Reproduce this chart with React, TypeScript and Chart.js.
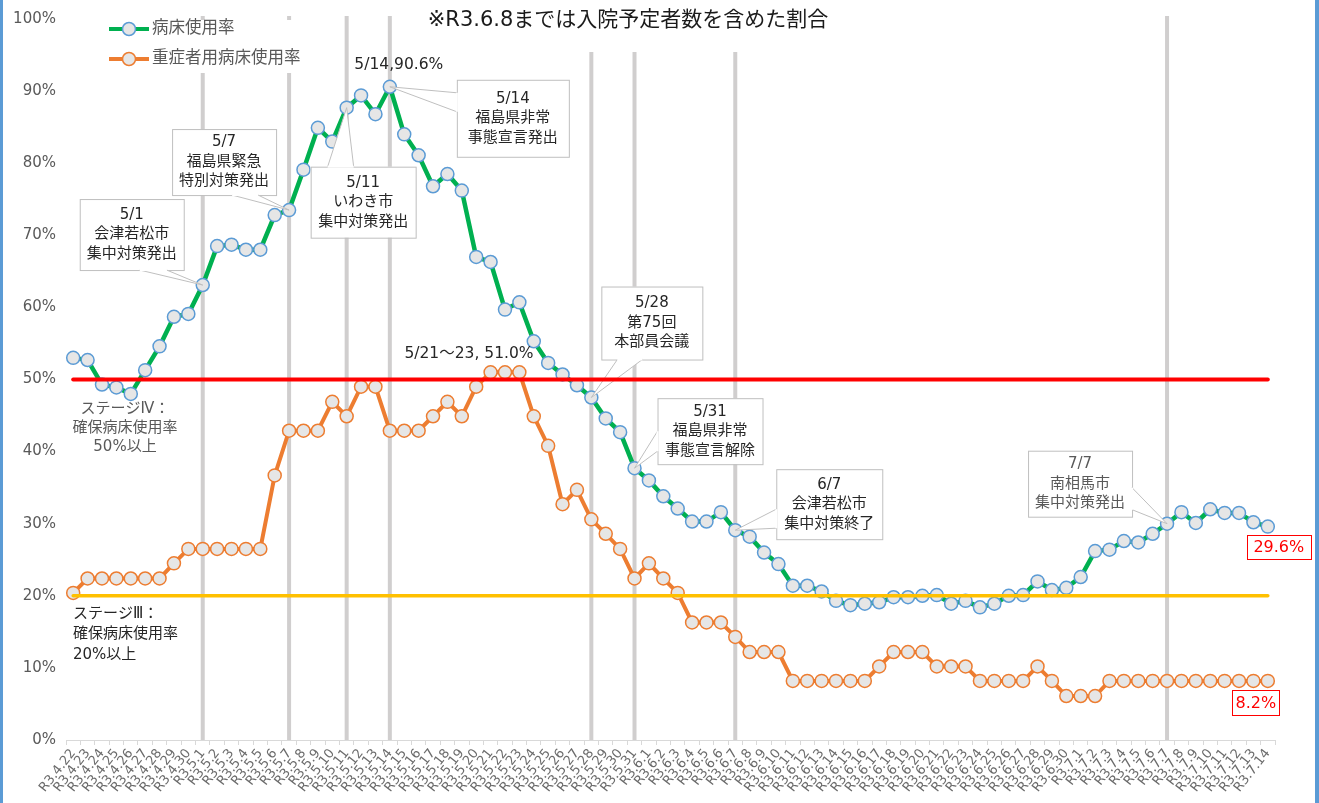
import React, { useEffect, useRef } from 'react';
import { Chart, registerables } from 'chart.js';

Chart.register(...registerables);

// ---------------- data ----------------
const dates = [
  'R3.4.22', 'R3.4.23', 'R3.4.24', 'R3.4.25', 'R3.4.26', 'R3.4.27', 'R3.4.28', 'R3.4.29', 'R3.4.30',
  'R3.5.1', 'R3.5.2', 'R3.5.3', 'R3.5.4', 'R3.5.5', 'R3.5.6', 'R3.5.7', 'R3.5.8', 'R3.5.9', 'R3.5.10',
  'R3.5.11', 'R3.5.12', 'R3.5.13', 'R3.5.14', 'R3.5.15', 'R3.5.16', 'R3.5.17', 'R3.5.18', 'R3.5.19', 'R3.5.20',
  'R3.5.21', 'R3.5.22', 'R3.5.23', 'R3.5.24', 'R3.5.25', 'R3.5.26', 'R3.5.27', 'R3.5.28', 'R3.5.29', 'R3.5.30', 'R3.5.31',
  'R3.6.1', 'R3.6.2', 'R3.6.3', 'R3.6.4', 'R3.6.5', 'R3.6.6', 'R3.6.7', 'R3.6.8', 'R3.6.9', 'R3.6.10',
  'R3.6.11', 'R3.6.12', 'R3.6.13', 'R3.6.14', 'R3.6.15', 'R3.6.16', 'R3.6.17', 'R3.6.18', 'R3.6.19', 'R3.6.20',
  'R3.6.21', 'R3.6.22', 'R3.6.23', 'R3.6.24', 'R3.6.25', 'R3.6.26', 'R3.6.27', 'R3.6.28', 'R3.6.29', 'R3.6.30',
  'R3.7.1', 'R3.7.2', 'R3.7.3', 'R3.7.4', 'R3.7.5', 'R3.7.6', 'R3.7.7', 'R3.7.8', 'R3.7.9', 'R3.7.10',
  'R3.7.11', 'R3.7.12', 'R3.7.13', 'R3.7.14',
];

// 病床使用率 (%)
const bedUsage = [
  53.0, 52.7, 49.3, 48.9, 48.0, 51.3, 54.6, 58.7, 59.1, 63.1,
  68.5, 68.7, 68.0, 68.0, 72.8, 73.5, 79.1, 84.9, 83.0, 87.7,
  89.4, 86.8, 90.6, 84.0, 81.1, 76.8, 78.5, 76.2, 67.0, 66.3,
  59.7, 60.7, 55.3, 52.3, 50.7, 49.2, 47.5, 44.6, 42.7, 37.7,
  36.0, 33.8, 32.1, 30.3, 30.3, 31.6, 29.1, 28.2, 26.0, 24.4,
  21.4, 21.4, 20.6, 19.3, 18.7, 18.9, 19.1, 19.8, 19.8, 20.0,
  20.1, 18.9, 19.3, 18.4, 18.9, 20.0, 20.1, 22.0, 20.8, 21.1,
  22.6, 26.2, 26.4, 27.6, 27.4, 28.6, 30.0, 31.6, 30.1, 32.0,
  31.5, 31.5, 30.2, 29.6,
];

// 重症者用病床使用率 (%)
const severeBedUsage = [
  20.4, 22.4, 22.4, 22.4, 22.4, 22.4, 22.4, 24.5, 26.5, 26.5,
  26.5, 26.5, 26.5, 26.5, 36.7, 42.9, 42.9, 42.9, 46.9, 44.9,
  49.0, 49.0, 42.9, 42.9, 42.9, 44.9, 46.9, 44.9, 49.0, 51.0,
  51.0, 51.0, 44.9, 40.8, 32.7, 34.7, 30.6, 28.6, 26.5, 22.4,
  24.5, 22.4, 20.4, 16.3, 16.3, 16.3, 14.3, 12.2, 12.2, 12.2,
  8.2, 8.2, 8.2, 8.2, 8.2, 8.2, 10.2, 12.2, 12.2, 12.2,
  10.2, 10.2, 10.2, 8.2, 8.2, 8.2, 8.2, 10.2, 8.2, 6.1,
  6.1, 6.1, 8.2, 8.2, 8.2, 8.2, 8.2, 8.2, 8.2, 8.2,
  8.2, 8.2, 8.2, 8.2,
];

const seriesNames = ['病床使用率', '重症者用病床使用率'];
const stageLevels = [50, 20];
const eventDates = ['R3.5.1', 'R3.5.7', 'R3.5.11', 'R3.5.14', 'R3.5.28', 'R3.5.31', 'R3.6.7', 'R3.7.7'];
const titleText = '※R3.6.8までは入院予定者数を含めた割合';

// callouts: anchored on the 病床使用率 point of a date; box/base are offsets from that point
const callouts = [
  { date: 'R3.5.1', lines: ['5/1', '会津若松市', '集中対策発出'], box: [-123, -86, 104, 71], base: [[-63, -15], [-36, -15]], color: '#262626' },
  { date: 'R3.5.7', lines: ['5/7', '福島県緊急', '特別対策発出'], box: [-117, -81, 104, 66], base: [[-57, -15], [-31, -15]], color: '#262626' },
  { date: 'R3.5.11', lines: ['5/11', 'いわき市', '集中対策発出'], box: [-36, 59, 105, 71], base: [[-19, 59], [7, 59]], color: '#262626' },
  { date: 'R3.5.14', lines: ['5/14', '福島県非常', '事態宣言発出'], box: [67, -7, 112, 77], base: [[67, 6], [67, 25]], color: '#262626' },
  { date: 'R3.5.28', lines: ['5/28', '第75回', '本部員会議'], box: [10, -111, 101, 73], base: [[26, -38], [51, -38]], color: '#262626' },
  { date: 'R3.5.31', lines: ['5/31', '福島県非常', '事態宣言解除'], box: [23, -70, 105, 66], base: [[23, -37], [23, -17]], color: '#262626' },
  { date: 'R3.6.7', lines: ['6/7', '会津若松市', '集中対策終了'], box: [41, -61, 106, 70], base: [[41, -21], [41, -2]], color: '#262626' },
  { date: 'R3.7.7', lines: ['7/7', '南相馬市', '集中対策発出'], box: [-139, -73, 104, 66], base: [[-35, -36], [-35, -14]], color: '#595959' },
];

// ---------------- styles ----------------
const FONT = '"DejaVu Sans", "Noto Sans CJK JP", sans-serif';
const GREEN = '#00B050';
const ORANGE = '#ED7D31';
const MARKER_FILL = '#E6E6E6';
const MARKER_BLUE = '#5B9BD5';
const STAGE_COLORS = ['#FF0000', '#FFC000'];

const overlayPlugin = {
  id: 'overlay',
  beforeDatasetsDraw(chart: any) {
    const { ctx, chartArea, scales } = chart;
    const x = scales.x;
    ctx.save();
    ctx.strokeStyle = '#D0CECE';
    ctx.lineWidth = 4;
    eventDates.forEach((d) => {
      const px = x.getPixelForValue(dates.indexOf(d));
      ctx.beginPath();
      ctx.moveTo(px, chartArea.top - 3);
      ctx.lineTo(px, chartArea.bottom);
      ctx.stroke();
    });
    // white backgrounds of legend and title
    ctx.fillStyle = '#ffffff';
    ctx.fillRect(100, 20, 222, 53);
    ctx.fillRect(405, 0, 555, 52);
    ctx.restore();
  },
  afterDatasetsDraw(chart: any) {
    const { ctx, scales } = chart;
    const x = scales.x;
    const y = scales.y;
    ctx.save();

    // callouts
    callouts.forEach((c) => {
      const i = dates.indexOf(c.date);
      const ax = x.getPixelForValue(i);
      const ay = y.getPixelForValue(bedUsage[i]);
      const [bx, by, bw, bh] = c.box;
      const left = ax + bx;
      const top = ay + by;
      ctx.fillStyle = '#ffffff';
      ctx.strokeStyle = '#BFBFBF';
      ctx.lineWidth = 1;
      ctx.fillRect(left, top, bw, bh);
      ctx.strokeRect(left + 0.5, top + 0.5, bw, bh);
      const p1 = [ax + c.base[0][0], ay + c.base[0][1]];
      const p2 = [ax + c.base[1][0], ay + c.base[1][1]];
      ctx.beginPath();
      ctx.moveTo(p1[0], p1[1]);
      ctx.lineTo(ax, ay);
      ctx.lineTo(p2[0], p2[1]);
      ctx.closePath();
      ctx.fill();
      ctx.beginPath();
      ctx.moveTo(p1[0], p1[1]);
      ctx.lineTo(ax, ay);
      ctx.lineTo(p2[0], p2[1]);
      ctx.stroke();
      ctx.strokeStyle = '#ffffff';
      ctx.lineWidth = 2;
      ctx.beginPath();
      ctx.moveTo(p1[0], p1[1]);
      ctx.lineTo(p2[0], p2[1]);
      ctx.stroke();
      ctx.fillStyle = c.color;
      ctx.font = `15px ${FONT}`;
      ctx.textAlign = 'center';
      ctx.textBaseline = 'middle';
      const lh = 19.5;
      const cy = top + bh / 2 - lh;
      c.lines.forEach((t, k) => ctx.fillText(t, left + bw / 2, cy + k * lh));
    });

    // stage lines
    const x0 = x.getPixelForValue(0);
    const x1 = x.getPixelForValue(dates.length - 1);
    stageLevels.forEach((v, k) => {
      const py = y.getPixelForValue(v);
      ctx.strokeStyle = STAGE_COLORS[k];
      ctx.lineWidth = k === 0 ? 4 : 3.5;
      ctx.lineCap = 'round';
      ctx.beginPath();
      ctx.moveTo(x0, py);
      ctx.lineTo(x1, py);
      ctx.stroke();
    });
    ctx.lineCap = 'butt';

    // stage texts
    ctx.font = `15px ${FONT}`;
    ctx.textBaseline = 'middle';
    ctx.textAlign = 'center';
    ctx.fillStyle = '#595959';
    const s4y = y.getPixelForValue(stageLevels[0]);
    ['ステージⅣ：', '確保病床使用率', '50%以上'].forEach((t, k) => ctx.fillText(t, 125, s4y + 30 + k * 19));
    ctx.textAlign = 'left';
    ctx.fillStyle = '#262626';
    const s3y = y.getPixelForValue(stageLevels[1]);
    ['ステージⅢ：', '確保病床使用率', '20%以上'].forEach((t, k) => ctx.fillText(t, 73, s3y + 18 + k * 20.5));

    // peak labels
    ctx.textAlign = 'center';
    ctx.fillStyle = '#262626';
    ctx.font = `15.5px ${FONT}`;
    const pi = dates.indexOf('R3.5.14');
    ctx.fillText(`5/14,${bedUsage[pi].toFixed(1)}%`, x.getPixelForValue(pi) + 9, y.getPixelForValue(bedUsage[pi]) - 22);
    const si = dates.indexOf('R3.5.22');
    ctx.fillText(`5/21～23, ${severeBedUsage[si].toFixed(1)}%`, x.getPixelForValue(si) - 36, y.getPixelForValue(severeBedUsage[si]) - 18);

    // last-value boxes
    const li = dates.length - 1;
    const lastBoxes = [
      { v: bedUsage[li], dx: 11, dy: 20, w: 64, h: 24 },
      { v: severeBedUsage[li], dx: -12, dy: 22, w: 47, h: 25 },
    ];
    ctx.font = `16px ${FONT}`;
    lastBoxes.forEach((b) => {
      const cx = x.getPixelForValue(li) + b.dx;
      const cy = y.getPixelForValue(b.v) + b.dy;
      ctx.fillStyle = '#ffffff';
      ctx.fillRect(cx - b.w / 2, cy - b.h / 2, b.w, b.h);
      ctx.strokeStyle = '#FF0000';
      ctx.lineWidth = 1;
      ctx.strokeRect(Math.round(cx - b.w / 2) + 0.5, Math.round(cy - b.h / 2) + 0.5, b.w, b.h);
      ctx.fillStyle = '#FF0000';
      ctx.fillText(`${b.v.toFixed(1)}%`, cx, cy + 1);
    });
    ctx.restore();
  },
  afterDraw(chart: any) {
    const { ctx } = chart;
    ctx.save();
    // legend
    const colors = [GREEN, ORANGE];
    const borders = [MARKER_BLUE, ORANGE];
    seriesNames.forEach((name, k) => {
      const ly = 29 + k * 30;
      ctx.strokeStyle = colors[k];
      ctx.lineWidth = 4;
      ctx.beginPath();
      ctx.moveTo(109, ly);
      ctx.lineTo(149, ly);
      ctx.stroke();
      ctx.beginPath();
      ctx.arc(129, ly, 6.5, 0, Math.PI * 2);
      ctx.fillStyle = MARKER_FILL;
      ctx.fill();
      ctx.strokeStyle = borders[k];
      ctx.lineWidth = 1.5;
      ctx.stroke();
      ctx.fillStyle = '#595959';
      ctx.font = `16.5px ${FONT}`;
      ctx.textAlign = 'left';
      ctx.textBaseline = 'middle';
      ctx.fillText(name, 152, ly);
    });
    // title
    ctx.fillStyle = '#1a1a1a';
    ctx.font = `21px ${FONT}`;
    ctx.textAlign = 'center';
    ctx.textBaseline = 'middle';
    ctx.fillText(titleText, 628, 21);
    // frame
    ctx.fillStyle = '#5B9BD5';
    ctx.fillRect(0, 0, 3, 803);
    ctx.fillRect(1315, 0, 4, 803);
    ctx.restore();
  },
};

export default function App() {
  const canvasRef = useRef<HTMLCanvasElement | null>(null);

  useEffect(() => {
    if (!canvasRef.current) return;
    const chart = new Chart(canvasRef.current, {
      type: 'line',
      data: {
        labels: dates,
        datasets: [
          {
            label: seriesNames[0],
            data: bedUsage,
            borderColor: GREEN,
            borderWidth: 4.5,
            pointRadius: 6.5,
            pointBorderWidth: 1.5,
            pointBackgroundColor: MARKER_FILL,
            pointBorderColor: MARKER_BLUE,
            tension: 0,
            order: 1,
          },
          {
            label: seriesNames[1],
            data: severeBedUsage,
            borderColor: ORANGE,
            borderWidth: 4,
            pointRadius: 6.5,
            pointBorderWidth: 1.5,
            pointBackgroundColor: MARKER_FILL,
            pointBorderColor: ORANGE,
            tension: 0,
            order: 2,
          },
        ],
      },
      options: {
        responsive: false,
        animation: false,
        events: [],
        devicePixelRatio: 1,
        layout: { padding: { top: 14, right: 44, left: 0, bottom: 0 } },
        plugins: {
          legend: { display: false },
          tooltip: { enabled: false },
        },
        scales: {
          x: {
            type: 'category',
            offset: true,
            grid: {
              display: true,
              offset: true,
              drawOnChartArea: false,
              drawTicks: true,
              tickLength: 5,
              color: '#D9D9D9',
            },
            border: { display: true, color: '#D9D9D9', width: 1 },
            ticks: {
              autoSkip: false,
              maxRotation: 52,
              minRotation: 52,
              padding: 1,
              color: '#6b6b6b',
              font: { size: 13, family: FONT },
            },
            afterFit: (scale: any) => {
              scale.height = 63;
            },
          },
          y: {
            min: 0,
            max: 100,
            grid: { display: false, drawTicks: false },
            border: { display: false },
            ticks: {
              stepSize: 10,
              padding: 10,
              color: '#595959',
              font: { size: 15, family: FONT },
              callback: (v: any) => `${v}%`,
            },
            afterFit: (scale: any) => {
              scale.width = 66;
            },
          },
        },
      },
      plugins: [overlayPlugin],
    });
    return () => chart.destroy();
  }, []);

  return (
    <div style={{ position: 'absolute', left: 0, top: 0, width: 1319, height: 803, background: '#ffffff' }}>
      <canvas ref={canvasRef} width={1319} height={803} style={{ display: 'block' }} />
    </div>
  );
}
